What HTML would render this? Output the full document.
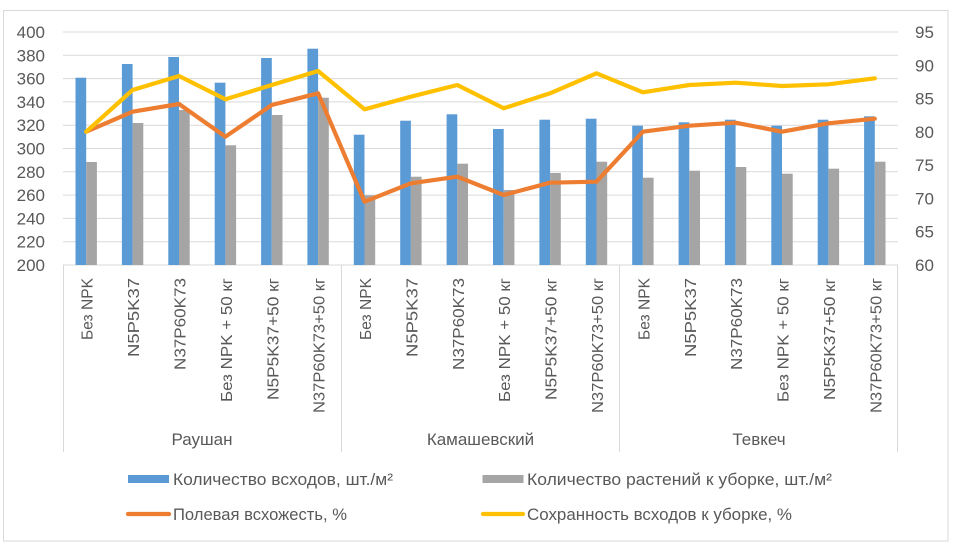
<!DOCTYPE html>
<html>
<head>
<meta charset="utf-8">
<style>
html,body{margin:0;padding:0;background:#fff;}
svg{display:block;}
text{font-family:"Liberation Sans","DejaVu Sans",sans-serif;fill:#595959;}
</style>
</head>
<body>
<svg width="964" height="555" viewBox="0 0 964 555" xmlns="http://www.w3.org/2000/svg">
<rect x="0" y="0" width="964" height="555" fill="#fff"/>
<rect x="3.5" y="10.5" width="944.5" height="530.5" fill="none" stroke="#d9d9d9" stroke-width="1"/>

<!-- gridlines -->
<g stroke="#d9d9d9" stroke-width="1">
<line x1="63" y1="32" x2="898" y2="32"/>
<line x1="63" y1="55.3" x2="898" y2="55.3"/>
<line x1="63" y1="78.6" x2="898" y2="78.6"/>
<line x1="63" y1="101.9" x2="898" y2="101.9"/>
<line x1="63" y1="125.2" x2="898" y2="125.2"/>
<line x1="63" y1="148.5" x2="898" y2="148.5"/>
<line x1="63" y1="171.8" x2="898" y2="171.8"/>
<line x1="63" y1="195.1" x2="898" y2="195.1"/>
<line x1="63" y1="218.4" x2="898" y2="218.4"/>
<line x1="63" y1="241.7" x2="898" y2="241.7"/>
<line x1="63" y1="265" x2="898" y2="265"/>
<line x1="63.5" y1="265" x2="63.5" y2="452"/>
<line x1="341.5" y1="265" x2="341.5" y2="452"/>
<line x1="619.5" y1="265" x2="619.5" y2="452"/>
<line x1="897.5" y1="265" x2="897.5" y2="452"/>
</g>

<!-- left axis labels -->
<g font-size="17" text-anchor="end">
<text x="45" y="38">400</text>
<text x="45" y="61.3">380</text>
<text x="45" y="84.6">360</text>
<text x="45" y="107.9">340</text>
<text x="45" y="131.2">320</text>
<text x="45" y="154.5">300</text>
<text x="45" y="177.8">280</text>
<text x="45" y="201.1">260</text>
<text x="45" y="224.4">240</text>
<text x="45" y="247.7">220</text>
<text x="45" y="271">200</text>
</g>
<!-- right axis labels -->
<g font-size="17" text-anchor="start">
<text x="915" y="38">95</text>
<text x="915" y="71.3">90</text>
<text x="915" y="104.6">85</text>
<text x="915" y="137.9">80</text>
<text x="915" y="171.1">75</text>
<text x="915" y="204.4">70</text>
<text x="915" y="237.7">65</text>
<text x="915" y="271">60</text>
</g>

<!-- blue bars -->
<g fill="#5B9BD5">
<rect x="75.5" y="77.7" width="10.7" height="187.3"/>
<rect x="121.9" y="64" width="10.7" height="201"/>
<rect x="168.3" y="57" width="10.7" height="208"/>
<rect x="214.7" y="82.7" width="10.7" height="182.3"/>
<rect x="261.1" y="58" width="10.7" height="207"/>
<rect x="307.4" y="48.7" width="10.7" height="216.3"/>
<rect x="353.8" y="134.7" width="10.7" height="130.3"/>
<rect x="400.2" y="120.7" width="10.7" height="144.3"/>
<rect x="446.6" y="114.3" width="10.7" height="150.7"/>
<rect x="493.0" y="129" width="10.7" height="136"/>
<rect x="539.4" y="119.7" width="10.7" height="145.3"/>
<rect x="585.8" y="118.7" width="10.7" height="146.3"/>
<rect x="632.2" y="125.7" width="10.7" height="139.3"/>
<rect x="678.6" y="122.3" width="10.7" height="142.7"/>
<rect x="724.9" y="119.7" width="10.7" height="145.3"/>
<rect x="771.3" y="125.7" width="10.7" height="139.3"/>
<rect x="817.7" y="119.7" width="10.7" height="145.3"/>
<rect x="864.1" y="116.3" width="10.7" height="148.7"/>
</g>
<!-- gray bars -->
<g fill="#A5A5A5">
<rect x="86.2" y="162" width="10.7" height="103"/>
<rect x="132.6" y="123" width="10.7" height="142"/>
<rect x="179.0" y="110" width="10.7" height="155"/>
<rect x="225.4" y="145.3" width="10.7" height="119.7"/>
<rect x="271.8" y="115" width="10.7" height="150"/>
<rect x="318.1" y="97.7" width="10.7" height="167.3"/>
<rect x="364.5" y="195.3" width="10.7" height="69.7"/>
<rect x="410.9" y="176.7" width="10.7" height="88.3"/>
<rect x="457.3" y="163.7" width="10.7" height="101.3"/>
<rect x="503.7" y="190" width="10.7" height="75"/>
<rect x="550.1" y="173" width="10.7" height="92"/>
<rect x="596.5" y="161.7" width="10.7" height="103.3"/>
<rect x="642.9" y="177.7" width="10.7" height="87.3"/>
<rect x="689.3" y="170.7" width="10.7" height="94.3"/>
<rect x="735.6" y="167" width="10.7" height="98"/>
<rect x="782.0" y="173.7" width="10.7" height="91.3"/>
<rect x="828.4" y="168.7" width="10.7" height="96.3"/>
<rect x="874.8" y="161.7" width="10.7" height="103.3"/>
</g>

<!-- lines -->
<polyline fill="none" stroke="#ED7D31" stroke-width="4.2" stroke-linejoin="round" stroke-linecap="round"
points="86.2,131.7 132.6,111.7 179.0,104 225.4,136.7 271.8,105 318.1,93.3 364.5,201.7 410.9,183.3 457.3,176.7 503.7,195 550.1,182.7 596.5,181.7 642.9,131.7 689.3,125.7 735.6,122.7 782.0,131.7 828.4,123.3 874.8,118.7"/>
<polyline fill="none" stroke="#FFC000" stroke-width="4.2" stroke-linejoin="round" stroke-linecap="round"
points="86.2,131.7 132.6,90 179.0,76 225.4,99.3 271.8,85 318.1,71 364.5,109.3 410.9,96.7 457.3,85 503.7,108.3 550.1,93.3 596.5,73.3 642.9,92.3 689.3,85 735.6,82.7 782.0,86 828.4,84.3 874.8,78.3"/>

<!-- category labels -->
<g font-size="16" text-anchor="end">
<text transform="translate(92.7,278) rotate(-90)" textLength="62" lengthAdjust="spacingAndGlyphs">Без NPK</text>
<text transform="translate(139.1,278) rotate(-90)" textLength="79" lengthAdjust="spacingAndGlyphs">N5P5K37</text>
<text transform="translate(185.5,278) rotate(-90)" textLength="92" lengthAdjust="spacingAndGlyphs">N37P60K73</text>
<text transform="translate(231.9,278) rotate(-90)" textLength="124" lengthAdjust="spacingAndGlyphs">Без NPK + 50 кг</text>
<text transform="translate(278.3,278) rotate(-90)" textLength="122" lengthAdjust="spacingAndGlyphs">N5P5K37+50 кг</text>
<text transform="translate(324.6,278) rotate(-90)" textLength="135" lengthAdjust="spacingAndGlyphs">N37P60K73+50 кг</text>
<text transform="translate(371.0,278) rotate(-90)" textLength="62" lengthAdjust="spacingAndGlyphs">Без NPK</text>
<text transform="translate(417.4,278) rotate(-90)" textLength="79" lengthAdjust="spacingAndGlyphs">N5P5K37</text>
<text transform="translate(463.8,278) rotate(-90)" textLength="92" lengthAdjust="spacingAndGlyphs">N37P60K73</text>
<text transform="translate(510.2,278) rotate(-90)" textLength="124" lengthAdjust="spacingAndGlyphs">Без NPK + 50 кг</text>
<text transform="translate(556.6,278) rotate(-90)" textLength="122" lengthAdjust="spacingAndGlyphs">N5P5K37+50 кг</text>
<text transform="translate(603.0,278) rotate(-90)" textLength="135" lengthAdjust="spacingAndGlyphs">N37P60K73+50 кг</text>
<text transform="translate(649.4,278) rotate(-90)" textLength="62" lengthAdjust="spacingAndGlyphs">Без NPK</text>
<text transform="translate(695.8,278) rotate(-90)" textLength="79" lengthAdjust="spacingAndGlyphs">N5P5K37</text>
<text transform="translate(742.1,278) rotate(-90)" textLength="92" lengthAdjust="spacingAndGlyphs">N37P60K73</text>
<text transform="translate(788.5,278) rotate(-90)" textLength="124" lengthAdjust="spacingAndGlyphs">Без NPK + 50 кг</text>
<text transform="translate(834.9,278) rotate(-90)" textLength="122" lengthAdjust="spacingAndGlyphs">N5P5K37+50 кг</text>
<text transform="translate(881.3,278) rotate(-90)" textLength="135" lengthAdjust="spacingAndGlyphs">N37P60K73+50 кг</text>
</g>

<!-- group labels -->
<g font-size="17" text-anchor="middle">
<text x="202" y="445">Раушан</text>
<text x="480.5" y="445">Камашевский</text>
<text x="759" y="445">Тевкеч</text>
</g>

<!-- legend -->
<rect x="128" y="475" width="41" height="8" fill="#5B9BD5"/>
<text x="173" y="485" font-size="17" textLength="220" lengthAdjust="spacingAndGlyphs">Количество всходов, шт./м²</text>
<rect x="482.5" y="475" width="41" height="8" fill="#A5A5A5"/>
<text x="527" y="485" font-size="17" textLength="305" lengthAdjust="spacingAndGlyphs">Количество растений к уборке, шт./м²</text>
<line x1="128" y1="514" x2="169" y2="514" stroke="#ED7D31" stroke-width="4.2" stroke-linecap="round"/>
<text x="173" y="520" font-size="17" textLength="174" lengthAdjust="spacingAndGlyphs">Полевая всхожесть, %</text>
<line x1="483" y1="514" x2="523" y2="514" stroke="#FFC000" stroke-width="4.2" stroke-linecap="round"/>
<text x="527" y="520" font-size="17" textLength="265" lengthAdjust="spacingAndGlyphs">Сохранность всходов к уборке, %</text>
</svg>
</body>
</html>
